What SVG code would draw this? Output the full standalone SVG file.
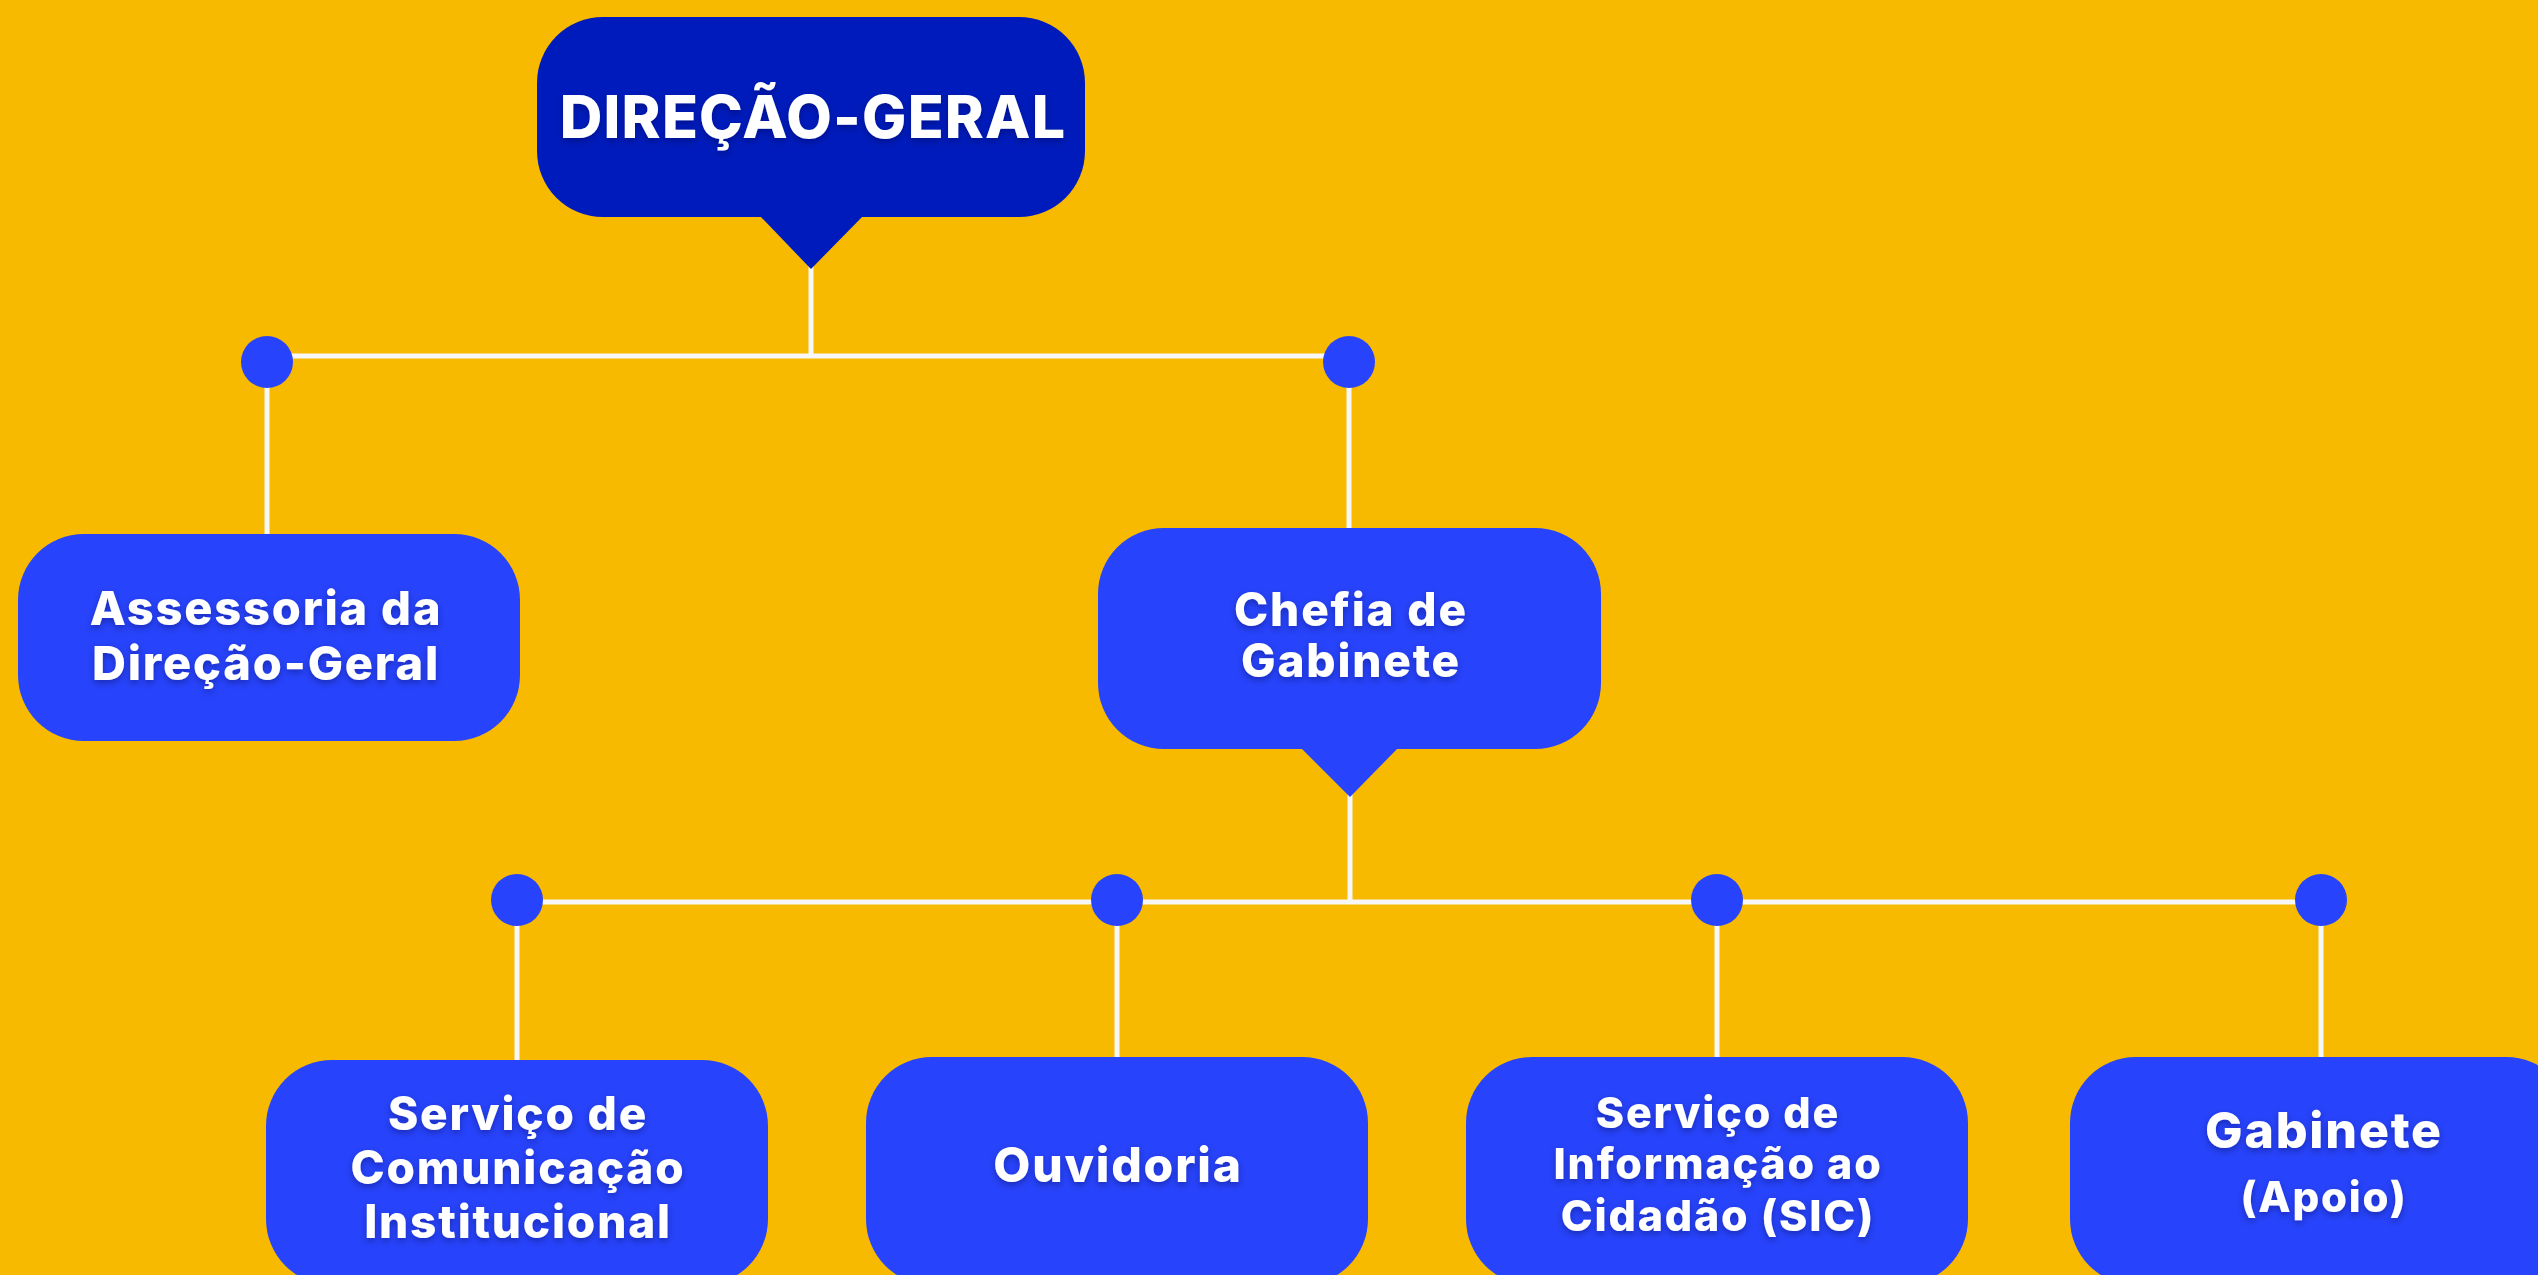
<svg xmlns="http://www.w3.org/2000/svg" width="2538" height="1275" viewBox="0 0 2538 1275">
  <defs>
    <filter id="ts" x="-10%" y="-30%" width="120%" height="160%">
      <feDropShadow dx="0" dy="3" stdDeviation="3" flood-color="#000033" flood-opacity="0.35"/>
    </filter>
  </defs>
  <style>
    .box { fill: #2743FB; }
    .dark { fill: #001BBB; }
    .dot { fill: #2743FB; }
    .ln { stroke: #F7F7F7; stroke-width: 5; fill: none; }
    .t { font-family: Inter, "Open Sans", "Liberation Sans", sans-serif; font-weight: 800; fill: #FFFFFF; text-anchor: middle; letter-spacing: 1.8px; filter: url(#ts); }
    .caps { letter-spacing: 1.2px; }
  </style>
  <rect x="0" y="0" width="2538" height="1275" fill="#F7BA00"/>

  <g id="connectors">
    <line class="ln" x1="811" y1="265" x2="811" y2="356"/>
    <line class="ln" x1="267" y1="356" x2="1349" y2="356"/>
    <line class="ln" x1="267" y1="362" x2="267" y2="536"/>
    <line class="ln" x1="1349" y1="362" x2="1349" y2="530"/>
    <line class="ln" x1="1350" y1="793" x2="1350" y2="902"/>
    <line class="ln" x1="517" y1="902" x2="2321" y2="902"/>
    <line class="ln" x1="517" y1="900" x2="517" y2="1062"/>
    <line class="ln" x1="1117" y1="900" x2="1117" y2="1059"/>
    <line class="ln" x1="1717" y1="900" x2="1717" y2="1059"/>
    <line class="ln" x1="2321" y1="900" x2="2321" y2="1059"/>
    <circle class="dot" cx="267" cy="362" r="26"/>
    <circle class="dot" cx="1349" cy="362" r="26"/>
    <circle class="dot" cx="517" cy="900" r="26"/>
    <circle class="dot" cx="1117" cy="900" r="26"/>
    <circle class="dot" cx="1717" cy="900" r="26"/>
    <circle class="dot" cx="2321" cy="900" r="26"/>
  </g>

  <g id="direcao-geral">
    <rect class="dark" x="537" y="17" width="548" height="200" rx="66" ry="66"/>
    <polygon class="dark" points="759,215 864,215 811,269"/>
    <text class="t caps" x="813" y="138" font-size="59">DIREÇÃO-GERAL</text>
  </g>

  <g id="assessoria">
    <rect class="box" x="18" y="534" width="502" height="207" rx="66" ry="66"/>
    <text class="t" x="266" y="625" font-size="47">Assessoria da</text>
    <text class="t" x="266" y="680" font-size="47">Direção-Geral</text>
  </g>

  <g id="chefia">
    <rect class="box" x="1098" y="528" width="503" height="221" rx="66" ry="66"/>
    <polygon class="box" points="1300,747 1399,747 1350,797"/>
    <text class="t" x="1351" y="626" font-size="46" letter-spacing="2.4">Chefia de</text>
    <text class="t" x="1351" y="677" font-size="46" letter-spacing="2.4">Gabinete</text>
  </g>

  <g id="comunicacao">
    <rect class="box" x="266" y="1060" width="502" height="225" rx="66" ry="66"/>
    <text class="t" x="518" y="1130" font-size="46">Serviço de</text>
    <text class="t" x="518" y="1184" font-size="46">Comunicação</text>
    <text class="t" x="518" y="1238" font-size="46">Institucional</text>
  </g>

  <g id="ouvidoria">
    <rect class="box" x="866" y="1057" width="502" height="228" rx="66" ry="66"/>
    <text class="t" x="1118" y="1182" font-size="48">Ouvidoria</text>
  </g>

  <g id="sic">
    <rect class="box" x="1466" y="1057" width="502" height="228" rx="66" ry="66"/>
    <text class="t" x="1718" y="1128" font-size="43">Serviço de</text>
    <text class="t" x="1718" y="1179" font-size="43">Informação ao</text>
    <text class="t" x="1718" y="1231" font-size="43">Cidadão (SIC)</text>
  </g>

  <g id="gabinete">
    <rect class="box" x="2070" y="1057" width="502" height="228" rx="66" ry="66"/>
    <text class="t" x="2324" y="1148" font-size="50">Gabinete</text>
    <text class="t" x="2324" y="1212" font-size="42">(Apoio)</text>
  </g>
</svg>
